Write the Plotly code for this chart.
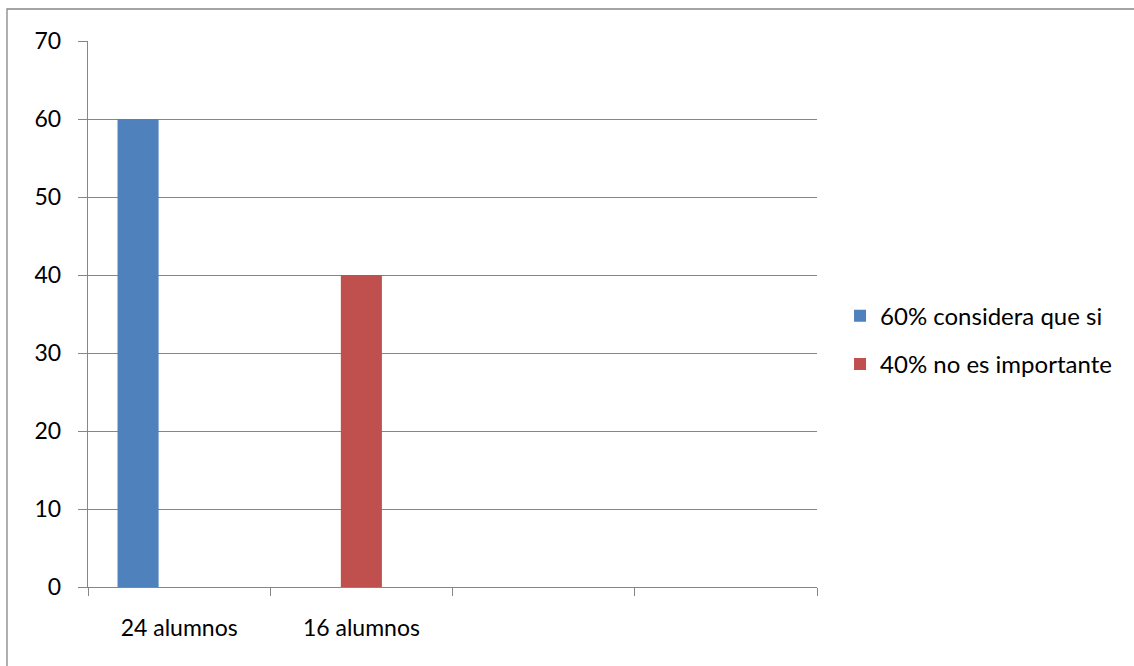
import plotly.graph_objects as go

categories = ["24 alumnos", "16 alumnos", " ", "  "]
series_names = ["60% considera que si", "40% no es importante"]
serie_si = [60, None, None, None]
serie_no = [None, 40, None, None]
serie_vacia = [None, None, None, None]
colors = ["#4F81BD", "#C0504D"]

FONT = "Lato"
FS = 23
GRAY = "#868686"

fig = go.Figure()
fig.add_trace(go.Bar(x=categories, y=serie_si, name=series_names[0],
                     marker=dict(color=colors[0], line=dict(width=0)),
                     legendgroup="a"))
fig.add_trace(go.Bar(x=categories, y=serie_no, name=series_names[1],
                     marker=dict(color=colors[1], line=dict(width=0)),
                     legendgroup="b"))
fig.add_trace(go.Bar(x=categories, y=serie_vacia, name="", showlegend=False,
                     marker=dict(color="#9BBB59", line=dict(width=0)),
                     legendgroup="c"))

fig.update_layout(
    width=1134, height=666,
    margin=dict(l=88, r=317, t=41, b=79, pad=0),
    paper_bgcolor="white", plot_bgcolor="white",
    barmode="group", bargap=0.324, bargroupgap=0,
    font=dict(family=FONT, size=FS, color="black"),
    showlegend=True,
    legend=dict(x=1.0316, xanchor="left", y=0.452, yanchor="middle",
                font=dict(family=FONT, size=24, color="black"),
                tracegroupgap=14, traceorder="grouped",
                bgcolor="rgba(0,0,0,0)"),
    shapes=[dict(type="rect", xref="paper", yref="paper",
                 x0=-81/729, x1=1.5, y0=-0.3, y1=1 + 32/546,
                 line=dict(color=GRAY, width=1.3), layer="below")],
)

fig.update_xaxes(type="category", tickson="boundaries",
                 showline=True, linecolor=GRAY, linewidth=1.4,
                 ticks="outside", ticklen=8, tickcolor=GRAY, tickwidth=1.4,
                 showgrid=False, zeroline=False, ticklabelstandoff=20,
                 tickfont=dict(family=FONT, size=FS, color="black"))
fig.update_yaxes(range=[0, 70], dtick=10, tick0=0,
                 showline=True, linecolor=GRAY, linewidth=1.4,
                 ticks="outside", ticklen=9, tickcolor=GRAY, tickwidth=1.4,
                 showgrid=True, gridcolor=GRAY, gridwidth=1.4,
                 zeroline=False, ticklabelstandoff=12,
                 tickfont=dict(family=FONT, size=FS, color="black"))

fig.write_html("out.html", config={"displayModeBar": False},
               post_script="document.body.style.margin='0';document.body.style.overflow='hidden';")
